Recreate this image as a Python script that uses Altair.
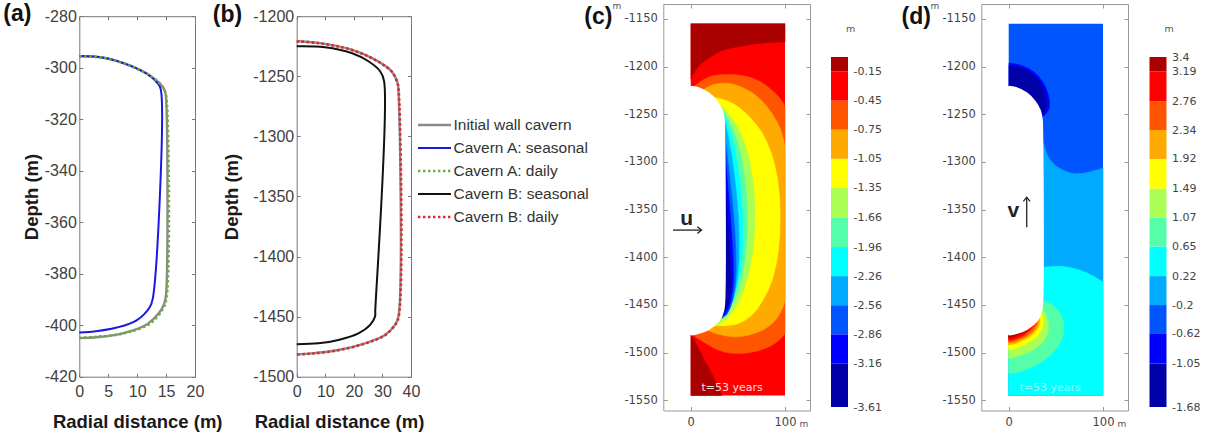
import altair as alt
import pandas as pd

W, H = 1212, 434

SERIES = ["Initial wall cavern", "Cavern A: seasonal", "Cavern A: daily",
          "Cavern B: seasonal", "Cavern B: daily"]

# ---------------- (a) cavern A wall traces: radial distance r (m), depth (m)
a_init_r = [0, 4.2, 8.8, 12.2, 14.0, 14.8, 15.0, 15.0, 14.7, 13.8, 11.8, 7.8, 3.5, 0]
a_init_d = [-295.5, -296.1, -299.2, -303.0, -306.3, -309.0, -312.0, -388.0, -391.5,
            -395.2, -399.5, -403.0, -404.6, -405.0]
a_seas_r = [0, 4.2, 8.8, 12.2, 13.6, 14.1, 12.7, 12.2, 9.9, 6.5, 1.8, 0]
a_seas_d = [-295.5, -296.1, -299.2, -303.2, -306.2, -308.6, -389.7, -392.9, -398.1,
            -400.9, -402.6, -402.8]
a_daily_r = [0, 4.2, 8.8, 12.2, 14.0, 14.8, 15.1, 15.1, 14.5, 12.2, 7.6, 3.0, 0]
a_daily_d = [-295.6, -296.2, -299.3, -303.1, -306.4, -309.2, -312.5, -389.0, -393.5,
             -399.4, -403.2, -404.5, -404.9]

# ---------------- (b) cavern B wall traces
b_init_r = [0, 7.6, 19.2, 27.4, 33.2, 35.3, 35.6, 35.6, 34.4, 30.9, 23.9, 14.6, 5.2, 0]
b_init_d = [-1220.8, -1222.2, -1227.8, -1236.1, -1245.8, -1255.6, -1262.0, -1450.0,
            -1456.9, -1465.3, -1472.2, -1477.8, -1480.6, -1481.4]
b_seas_r = [0, 9.9, 19.2, 25.1, 29.2, 30.6, 27.5, 27.4, 25.7, 21.6, 14.6, 7.6, 0]
b_seas_d = [-1225.0, -1225.8, -1230.6, -1237.5, -1245.8, -1254.2, -1444.4, -1450.0,
            -1456.9, -1463.9, -1469.4, -1472.2, -1473.0]
b_daily_r = [0, 7.6, 19.2, 27.4, 33.2, 35.3, 35.7, 35.7, 34.4, 30.9, 23.9, 14.6, 5.2, 0]
b_daily_d = [-1221.0, -1222.4, -1228.0, -1236.3, -1246.0, -1255.8, -1262.0, -1450.0,
             -1457.0, -1465.5, -1472.4, -1478.0, -1480.8, -1481.6]

# ---------------- tick values
A_X_TICKS = [0, 5, 10, 15, 20]
A_Y_TICKS = [-420, -400, -380, -360, -340, -320, -300, -280]
B_X_TICKS = [0, 10, 20, 30, 40]
B_Y_TICKS = [-1500, -1450, -1400, -1350, -1300, -1250, -1200]
M_X_TICKS = [0, 100]
M_Y_TICKS = [-1550, -1500, -1450, -1400, -1350, -1300, -1250, -1200, -1150]

# colour-bar levels (bottom to top)
U_LEVELS = [-3.61, -3.16, -2.86, -2.56, -2.26, -1.96, -1.66, -1.35, -1.05, -0.75, -0.45, -0.15, 0.0]
U_TICKS = [-3.61, -3.16, -2.86, -2.56, -2.26, -1.96, -1.66, -1.35, -1.05, -0.75, -0.45, -0.15]
V_LEVELS = [-1.68, -1.05, -0.62, -0.2, 0.22, 0.65, 1.07, 1.49, 1.92, 2.34, 2.76, 3.19, 3.4]
V_TICKS = V_LEVELS

# model domain of the displacement maps (m)
model_x = [0, 100]
model_d = [-1545, -1155]

# ---------------- (c) radial displacement u: outlines of the filled level regions
c_dred_top_x = [0, 100, 100, 90, 80, 70, 61, 53, 45, 39, 33, 27, 22, 17, 12, 8, 5, 2, 0]
c_dred_top_d = [-1155, -1155, -1174, -1174.5, -1175, -1176, -1177, -1178.5, -1180, -1181.5,
                -1183, -1186, -1189, -1192.5, -1196, -1200, -1204, -1208.5, -1213]
c_dred_bot_x = [0, 3, 6, 9, 12, 16, 20, 24, 27, 30, 33, 0]
c_dred_bot_d = [-1481, -1486, -1491, -1497, -1503, -1510.5, -1518, -1525.5, -1532, -1538.5, -1545, -1545]
c_ored_x = [2, 6, 10, 15, 20, 26, 33, 40, 47, 55, 62, 69, 75, 81, 87, 93, 97, 100, 100, 97, 93,
            89, 84, 78, 72, 65, 58, 51, 44, 36, 30, 24, 18, 13, 8, 4, 2]
c_ored_d = [-1222, -1219, -1216, -1213, -1210.5, -1209, -1208.5, -1208.3, -1208.5, -1209.5,
            -1211, -1213.5, -1216.5, -1220.5, -1225.5, -1231.5, -1236.5, -1242, -1480, -1484,
            -1487.5, -1490.5, -1493.5, -1496, -1498, -1499.5, -1500.5, -1501, -1500.8, -1499.5,
            -1497.5, -1495, -1491.5, -1488.5, -1485.5, -1482.5, -1480.5]
c_orange_x = [12, 16, 22, 28, 33, 40, 45, 50, 55, 61, 66, 71, 76, 81, 86, 91, 95, 98, 100, 100,
              98, 95, 92, 89, 84, 78, 73, 68, 62, 55, 47, 40, 33, 26, 20, 15, 12]
c_orange_d = [-1225, -1222.5, -1219.5, -1218, -1217.5, -1217.5, -1218.5, -1220, -1222, -1225,
              -1228, -1232, -1236.5, -1242, -1249, -1257, -1265, -1275, -1284, -1445, -1452,
              -1458, -1463, -1467, -1471.5, -1475.5, -1478, -1479.8, -1481.5, -1483, -1483.4,
              -1483, -1481.5, -1479.8, -1477.5, -1475.5, -1474]
c_yellow_x = [22, 28, 34, 40, 46, 52, 58, 64, 70, 76, 81, 85.5, 89, 92, 94, 94.8, 94.5, 93,
              90.5, 87, 82, 76, 70, 64, 57, 50, 43, 36, 29, 23, 18]
c_yellow_d = [-1231.5, -1233, -1234.5, -1236.5, -1239.5, -1243.5, -1248.5, -1254.5, -1261.5,
              -1270, -1280, -1291, -1303, -1318, -1335, -1355, -1375, -1393, -1408, -1422, -1435,
              -1446, -1455, -1461.5, -1466.5, -1469.8, -1471.2, -1471.8, -1471.8, -1471.5, -1471]
c_ygreen_x = [28, 33, 38, 43, 48, 52.5, 57, 61, 64, 66.3, 67.6, 68, 67.5, 66, 63.5, 60, 55.5,
              50, 44, 38, 32, 26, 22]
c_ygreen_d = [-1238, -1242, -1247, -1253, -1260.5, -1269, -1280, -1293, -1307, -1322, -1338,
              -1356, -1374, -1392, -1408, -1423, -1437, -1449, -1458, -1464.5, -1469, -1471.5, -1472]
c_mint_x = [30, 34, 38, 42, 46, 50, 53.5, 56.5, 58.5, 59.8, 60, 59.3, 57.5, 54.5, 50.5, 45.5,
            40, 34, 28, 25]
c_mint_d = [-1242, -1246, -1252, -1259, -1268, -1280, -1294, -1310, -1327, -1345, -1365, -1385,
            -1404, -1421, -1435, -1447, -1456, -1463, -1468, -1470]
c_cyan_x = [33, 36, 39.5, 43, 46.5, 49.5, 52, 53.8, 55, 55.2, 54.5, 52.5, 49.5, 45.5, 41, 36, 31, 27]
c_cyan_d = [-1247, -1252, -1261, -1272, -1286, -1302, -1320, -1340, -1360, -1380, -1398, -1415,
            -1430, -1443, -1453, -1460, -1465, -1468]
c_lblue_x = [34, 37, 40, 43, 46, 48.5, 50.3, 51.2, 51, 49.8, 47.5, 44.5, 40.5, 36, 31, 29]
c_lblue_d = [-1253, -1262, -1275, -1292, -1312, -1334, -1357, -1380, -1400, -1418, -1433, -1445,
             -1455, -1461, -1465.5, -1466]
c_mblue_x = [35, 37, 39.5, 42, 44.5, 46.5, 47.8, 48, 47, 45, 42, 38.5, 34, 30]
c_mblue_d = [-1262, -1280, -1300, -1322, -1346, -1370, -1393, -1413, -1430, -1443, -1453, -1460,
             -1463.5, -1465]
c_blue_x = [35, 37, 39, 41.3, 43.3, 44.8, 45.3, 44.5, 42.5, 39.5, 36, 32]
c_blue_d = [-1275, -1298, -1322, -1348, -1374, -1398, -1418, -1434, -1446, -1455, -1460.5, -1462]
c_navy_x = [35, 36.8, 38.7, 40.6, 42, 42.6, 41.8, 39.5, 36.8, 34]
c_navy_d = [-1300, -1325, -1352, -1380, -1405, -1425, -1440, -1450, -1455.5, -1457]

# ---------------- (d) vertical displacement v: outlines of the filled level regions
d_lblue_x = [34, 36, 39, 42, 46, 51, 58, 65, 72, 79, 86, 93, 100, 100, 0, 0]
d_lblue_d = [-1268, -1278, -1288, -1295, -1300.5, -1305, -1309, -1311.5, -1312.5, -1312,
             -1310.5, -1308.5, -1306.5, -1545, -1545, -1300]
d_cyan_x = [35, 42, 50, 58, 66, 74, 82, 90, 100, 100, 0, 0]
d_cyan_d = [-1411, -1410, -1409.5, -1409.8, -1411, -1413, -1416, -1420, -1426, -1545, -1545, -1440]
d_mint_x = [35, 40, 45, 50, 54, 57, 58.5, 58.5, 57, 54, 50, 45, 39, 32, 24, 16, 8, 0, 0]
d_mint_d = [-1445, -1446.5, -1449, -1453, -1458, -1464, -1470, -1477, -1484, -1490.5, -1496.5,
            -1502, -1507, -1511.5, -1515.5, -1518.5, -1521, -1522, -1460]
d_ygreen_x = [35, 38, 40.5, 42, 42, 40.5, 37.5, 33, 27, 20, 12, 5, 0, 0]
d_ygreen_d = [-1452, -1457, -1463, -1469, -1476, -1482, -1487.5, -1492, -1496.5, -1500, -1503,
              -1505, -1506, -1470]
d_yellow_x = [34, 36, 36.8, 36, 33.5, 29.5, 24, 18, 12, 6, 0, 0]
d_yellow_d = [-1456, -1461, -1467, -1473, -1478.5, -1483.5, -1487.5, -1491, -1494, -1496, -1497, -1470]
d_orange_x = [32, 33, 32, 29, 24.5, 19, 13, 7, 0, 0]
d_orange_d = [-1461, -1466.5, -1472, -1477, -1481.5, -1485, -1488, -1490.5, -1492, -1470]
d_ored_x = [30, 30, 27.5, 23, 17.5, 11, 5, 0, 0]
d_ored_d = [-1465, -1470, -1475, -1479.5, -1483.5, -1486.5, -1488.5, -1489.5, -1470]
d_red_x = [27, 25.5, 21.5, 16, 10, 5, 0, 0]
d_red_d = [-1468, -1473, -1477.5, -1481.5, -1484.5, -1486.3, -1487.3, -1470]
d_dred_x = [22, 19, 14, 8.5, 4, 0, 0]
d_dred_d = [-1472, -1476, -1479.5, -1482, -1483.5, -1484.2, -1470]
d_topblue_x = [0, 8, 15, 21, 26.5, 31.5, 35.8, 39.3, 41.8, 43.2, 43.3, 41.5, 38.5, 35.3, 34, 0]
d_topblue_d = [-1196.5, -1197.3, -1199.3, -1202, -1205.5, -1210, -1215.5, -1222, -1229, -1236,
               -1242, -1247, -1250.5, -1252.5, -1253, -1240]
d_topnavy_x = [0, 8, 15, 21, 26, 30.5, 34.3, 37.3, 39.3, 40.3, 40, 38.3, 35.6, 34, 0]
d_topnavy_d = [-1199, -1199.8, -1201.8, -1204.5, -1208, -1212.5, -1218, -1224, -1230.5, -1237,
               -1242.5, -1247, -1251, -1252.5, -1240]

# ================= styling and layout =================
JET12 = ["#0000a8", "#0000ff", "#0055ff", "#00aaff", "#00ffff", "#55ffaa",
         "#aaff55", "#ffff00", "#ffaa00", "#ff5500", "#ff0000", "#aa0000"]

STYLE = {
    "Initial wall cavern": dict(color="#8a8a8a", strokeWidth=2.4),
    "Cavern A: seasonal": dict(color="#1818e0", strokeWidth=2.0),
    "Cavern A: daily": dict(color="#74aa3c", strokeWidth=2.6, strokeDash=[2.4, 2.6]),
    "Cavern B: seasonal": dict(color="#111111", strokeWidth=2.0),
    "Cavern B: daily": dict(color="#e2242b", strokeWidth=2.6, strokeDash=[2.4, 2.6]),
}

MATLAB_FONT = "Liberation Sans"
COMSOL_FONT = "DejaVu Sans"

BOX_A = dict(l=79.3, r=195.0, t=16.2, b=376.7)
BOX_B = dict(l=296.7, r=411.0, t=16.2, b=376.7)
BOX_C = dict(l=663.3, r=810.0, t=4.0, b=410.5)
BOX_D = dict(l=981.3, r=1128.0, t=4.0, b=410.5)
CBAR_C = dict(l=831.0, r=848.0, t=57.0, b=407.0)
CBAR_D = dict(l=1149.5, r=1166.5, t=57.0, b=407.0)

A_DOM = ([0, 20], [-420, -280])
B_DOM = ([0, 40], [-1500, -1200])
M_DOM = ([-29.06, 126.5], [-1560.8, -1134.3])


def lin(domain, lo, hi):
    return alt.Scale(domain=domain, range=[lo, hi], nice=False, zero=False)


def scales(box, dom):
    return lin(dom[0], box["l"], box["r"]), lin(dom[1], box["b"], box["t"])


def trace(xs, ds, sx, sy, style, interp="catmull-rom"):
    df = pd.DataFrame({"x": xs, "d": ds, "k": list(range(len(xs)))})
    return alt.Chart(df).mark_line(interpolate=interp, **style).encode(
        x=alt.X("x:Q", scale=sx, axis=None),
        y=alt.Y("d:Q", scale=sy, axis=None),
        order="k:Q",
    )


def patch(xs, ds, sx, sy, color, interp="linear", edge=0.6):
    df = pd.DataFrame({"x": xs, "d": ds, "k": list(range(len(xs)))})
    return alt.Chart(df).mark_line(
        interpolate=interp, fill=color, stroke=color, strokeWidth=edge
    ).encode(
        x=alt.X("x:Q", scale=sx, axis=None),
        y=alt.Y("d:Q", scale=sy, axis=None),
        order="k:Q",
    )


def cavity(sx, sy):
    """White cut-out of the cavern, including its edge on the symmetry axis."""
    axis_edge = pd.DataFrame({"x": [b_init_r[0]], "d0": [b_init_d[0]], "d1": [b_init_d[-1]]})
    rule = alt.Chart(axis_edge).mark_rule(color="#ffffff", strokeWidth=2.2).encode(
        x=alt.X("x:Q", scale=sx, axis=None),
        y=alt.Y("d0:Q", scale=sy, axis=None), y2="d1:Q",
    )
    return [patch(b_init_r, b_init_d, sx, sy, "#ffffff", interp="catmull-rom", edge=1.6), rule]


def label(text, x, d, sx, sy, **kw):
    df = pd.DataFrame({"x": [x], "d": [d], "t": [text]})
    return alt.Chart(df).mark_text(align="center", baseline="middle", **kw).encode(
        x=alt.X("x:Q", scale=sx, axis=None),
        y=alt.Y("d:Q", scale=sy, axis=None),
        text="t:N",
    )


def arrow(x0, d0, x1, d1, sx, sy, head_path):
    seg = pd.DataFrame({"x0": [x0], "d0": [d0], "x1": [x1], "d1": [d1]})
    shaft = alt.Chart(seg).mark_rule(color="#222222", strokeWidth=1.3).encode(
        x=alt.X("x0:Q", scale=sx, axis=None), x2="x1:Q",
        y=alt.Y("d0:Q", scale=sy, axis=None), y2="d1:Q",
    )
    head = alt.Chart(seg).mark_point(
        shape=head_path, filled=False, size=70, color="#222222", strokeWidth=1.3, opacity=1
    ).encode(
        x=alt.X("x1:Q", scale=sx, axis=None),
        y=alt.Y("d1:Q", scale=sy, axis=None),
    )
    return [shaft, head]


def frame(box, dom, sx, sy, xticks, yticks, edge, tick_len, xmain, ymain):
    corners = pd.DataFrame({"x": dom[0], "y": dom[1]})
    base = alt.Chart(corners).mark_point(opacity=0)
    common = dict(grid=False, labelFlush=False, labelOverlap=False, ticks=False, tickSize=0,
                  domain=True, domainColor=edge, domainWidth=1)
    main = base.encode(
        x=alt.X("x:Q", scale=sx, axis=alt.Axis(orient="bottom", offset=box["b"] - H,
                                                values=xticks, **common, **xmain)),
        y=alt.Y("y:Q", scale=sy, axis=alt.Axis(orient="left", offset=-box["l"],
                                                values=yticks, **common, **ymain)),
    )
    inward = dict(labels=False, domain=False, ticks=True, tickSize=tick_len, tickColor=edge,
                  tickWidth=1, grid=False, title=None)
    near = base.encode(
        x=alt.X("x:Q", scale=sx, axis=alt.Axis(orient="top", offset=-box["b"],
                                                values=xticks, **inward)),
        y=alt.Y("y:Q", scale=sy, axis=alt.Axis(orient="right", offset=box["l"] - W,
                                                values=yticks, **inward)),
    )
    edges = dict(inward, domain=True, domainColor=edge, domainWidth=1)
    far = base.encode(
        x=alt.X("x:Q", scale=sx, axis=alt.Axis(orient="bottom", offset=box["t"] - H,
                                                values=xticks, **edges)),
        y=alt.Y("y:Q", scale=sy, axis=alt.Axis(orient="left", offset=-box["r"],
                                                values=yticks, **edges)),
    )
    return [main, near, far]


def matlab_axes(title_x_center, ylabel_center):
    lab = dict(labelFont=MATLAB_FONT, labelFontSize=16, labelColor="#404040",
               titleFont=MATLAB_FONT, titleFontSize=18.5, titleFontWeight="bold",
               titleColor="#1a1a1a", titleAlign="center", titleBaseline="middle")
    xmain = dict(lab, labelPadding=7, title="Radial distance (m)", titleX=title_x_center,
                 titleY=44.3, titleAngle=0)
    ymain = dict(lab, labelPadding=3, labelExpr="'' + datum.value", title="Depth (m)",
                 titleAngle=270, titleX=ylabel_center[0], titleY=ylabel_center[1])
    return xmain, ymain


def comsol_axes(box):
    lab = dict(labelFont=COMSOL_FONT, labelFontSize=11.5, labelColor="#444444",
               titleFont=COMSOL_FONT, titleFontSize=9, titleFontWeight="normal",
               titleColor="#555555", titleAlign="center", titleBaseline="middle", titleAngle=0)
    xmain = dict(lab, labelPadding=6, title="m", titleX=box["l"] + 140.0, titleY=13.0)
    ymain = dict(lab, labelPadding=6, labelExpr="'' + datum.value", title="m",
                 titleX=-47.0, titleY=5.0)
    return xmain, ymain


# ---------------- panel (a)
sxa, sya = scales(BOX_A, A_DOM)
panel_a = alt.layer(
    trace(a_init_r, a_init_d, sxa, sya, STYLE[SERIES[0]]),
    trace(a_seas_r, a_seas_d, sxa, sya, STYLE[SERIES[1]]),
    trace(a_daily_r, a_daily_d, sxa, sya, STYLE[SERIES[2]]),
    label("(a)", -10.7, -279.3, sxa, sya, font=MATLAB_FONT, fontSize=23, fontWeight="bold",
          color="#111111"),
)
xa, ya = matlab_axes(137.2, (-47.8, 196.5))
frame_a = frame(BOX_A, A_DOM, sxa, sya, A_X_TICKS, A_Y_TICKS, "#777777", 3.5, xa, ya)

# ---------------- panel (b)
sxb, syb = scales(BOX_B, B_DOM)
panel_b = alt.layer(
    trace(b_init_r, b_init_d, sxb, syb, STYLE[SERIES[0]]),
    trace(b_seas_r, b_seas_d, sxb, syb, STYLE[SERIES[3]]),
    trace(b_daily_r, b_daily_d, sxb, syb, STYLE[SERIES[4]]),
    label("(b)", -24.2, -1198.6, sxb, syb, font=MATLAB_FONT, fontSize=23, fontWeight="bold",
          color="#111111"),
)
xb, yb = matlab_axes(339.0, (-65.0, 196.5))
frame_b = frame(BOX_B, B_DOM, sxb, syb, B_X_TICKS, B_Y_TICKS, "#777777", 3.5, xb, yb)

# ---------------- shared legend for (a) and (b)
leg_x = lin([0, 1], 418.0, 451.0)
leg_y = alt.Scale(type="point", domain=SERIES, range=[125, 217], padding=0)
legend_layers = []
for name in SERIES:
    legend_layers.append(
        alt.Chart(pd.DataFrame({"s": [name]})).mark_rule(**STYLE[name]).encode(
            x=alt.XDatum(0, scale=leg_x, axis=None),
            x2=alt.X2Datum(1),
            y=alt.Y("s:N", scale=leg_y, axis=None),
        )
    )
legend_layers.append(
    alt.Chart(pd.DataFrame({"s": SERIES})).mark_text(
        align="left", baseline="middle", dx=2.5, font=MATLAB_FONT, fontSize=15.5, color="#333333"
    ).encode(
        x=alt.XDatum(1, scale=leg_x, axis=None),
        y=alt.Y("s:N", scale=leg_y, axis=None),
        text="s:N",
    )
)
legend = alt.layer(*legend_layers)


# ---------------- panels (c) and (d)
def model_rect(sx, sy, color):
    df = pd.DataFrame({"x0": [model_x[0]], "x1": [model_x[1]], "d0": [model_d[0]], "d1": [model_d[1]]})
    return alt.Chart(df).mark_rect(color=color).encode(
        x=alt.X("x0:Q", scale=sx, axis=None), x2="x1:Q",
        y=alt.Y("d0:Q", scale=sy, axis=None), y2="d1:Q",
    )


def colorbar(box, levels, ticks):
    df = pd.DataFrame({"lo": levels[:-1], "hi": levels[1:], "c": JET12})
    sx = lin([0, 1], box["l"], box["r"])
    sy = lin([levels[0], levels[-1]], box["b"], box["t"])
    return alt.Chart(df).mark_rect(strokeWidth=0).encode(
        x=alt.XDatum(0, scale=sx, axis=None),
        x2=alt.X2Datum(1),
        y=alt.Y("lo:Q", scale=sy, axis=alt.Axis(
            orient="right", offset=box["r"] - W, values=ticks, labelExpr="'' + datum.value",
            domain=False, ticks=False, grid=False, labelPadding=5, labelFlush=False,
            labelOverlap=False, labelFont=COMSOL_FONT, labelFontSize=11, labelColor="#444444",
            title="m", titleAngle=0, titleX=2.0, titleY=28.0, titleFont=COMSOL_FONT,
            titleFontSize=9.5, titleFontWeight="normal", titleColor="#555555",
            titleAlign="center", titleBaseline="middle")),
        y2="hi:Q",
        color=alt.Color("c:N", scale=None),
    )


sxc, syc = scales(BOX_C, M_DOM)
c_regions = [
    (c_dred_top_x, c_dred_top_d, 11), (c_dred_bot_x, c_dred_bot_d, 11),
    (c_ored_x, c_ored_d, 9), (c_orange_x, c_orange_d, 8), (c_yellow_x, c_yellow_d, 7),
    (c_ygreen_x, c_ygreen_d, 6), (c_mint_x, c_mint_d, 5), (c_cyan_x, c_cyan_d, 4),
    (c_lblue_x, c_lblue_d, 3), (c_mblue_x, c_mblue_d, 2), (c_blue_x, c_blue_d, 1),
    (c_navy_x, c_navy_d, 0),
]
panel_c = alt.layer(
    model_rect(sxc, syc, JET12[10]),
    *[patch(xs, ds, sxc, syc, JET12[i]) for xs, ds, i in c_regions],
    *cavity(sxc, syc),
    label("t=53 years", 44.0, -1537.5, sxc, syc, font=COMSOL_FONT, fontSize=11, color="#ffffff",
          opacity=0.85),
    label("u", -4.2, -1360.0, sxc, syc, font=MATLAB_FONT, fontSize=21, fontWeight="bold",
          color="#222222"),
    *arrow(-18.8, -1371.5, 11.5, -1371.5, sxc, syc, "M-1,-0.8L0,0L-1,0.8"),
    label("(c)", -98.0, -1147.5, sxc, syc, font=MATLAB_FONT, fontSize=23, fontWeight="bold",
          color="#111111"),
)
xc, yc = comsol_axes(BOX_C)
frame_c = frame(BOX_C, M_DOM, sxc, syc, M_X_TICKS, M_Y_TICKS, "#999999", 4, xc, yc)

sxd, syd = scales(BOX_D, M_DOM)
d_regions = [
    (d_lblue_x, d_lblue_d, 3), (d_cyan_x, d_cyan_d, 4), (d_mint_x, d_mint_d, 5),
    (d_ygreen_x, d_ygreen_d, 6), (d_yellow_x, d_yellow_d, 7), (d_orange_x, d_orange_d, 8),
    (d_ored_x, d_ored_d, 9), (d_red_x, d_red_d, 10), (d_dred_x, d_dred_d, 11),
    (d_topblue_x, d_topblue_d, 1), (d_topnavy_x, d_topnavy_d, 0),
]
panel_d = alt.layer(
    model_rect(sxd, syd, JET12[2]),
    *[patch(xs, ds, sxd, syd, JET12[i]) for xs, ds, i in d_regions],
    *cavity(sxd, syd),
    label("t=53 years", 44.0, -1537.5, sxd, syd, font=COMSOL_FONT, fontSize=11, color="#e8ffff",
          opacity=0.6),
    label("v", 4.9, -1352.0, sxd, syd, font=MATLAB_FONT, fontSize=21, fontWeight="bold",
          color="#222222"),
    *arrow(19.1, -1368.5, 19.1, -1337.0, sxd, syd, "M-0.8,1L0,0L0.8,1"),
    label("(d)", -98.0, -1147.5, sxd, syd, font=MATLAB_FONT, fontSize=23, fontWeight="bold",
          color="#111111"),
)
xd, yd = comsol_axes(BOX_D)
frame_d = frame(BOX_D, M_DOM, sxd, syd, M_X_TICKS, M_Y_TICKS, "#999999", 4, xd, yd)

chart = alt.layer(
    panel_a, *frame_a,
    panel_b, *frame_b,
    legend,
    panel_c, colorbar(CBAR_C, U_LEVELS, U_TICKS), *frame_c,
    panel_d, colorbar(CBAR_D, V_LEVELS, V_TICKS), *frame_d,
).resolve_scale(
    x="independent", y="independent", color="independent"
).resolve_axis(
    x="independent", y="independent"
).properties(
    width=W, height=H, padding=0, autosize=alt.AutoSizeParams(type="none")
).configure_view(stroke=None)

chart.save("out.html", embed_options={"renderer": "svg", "actions": False})
